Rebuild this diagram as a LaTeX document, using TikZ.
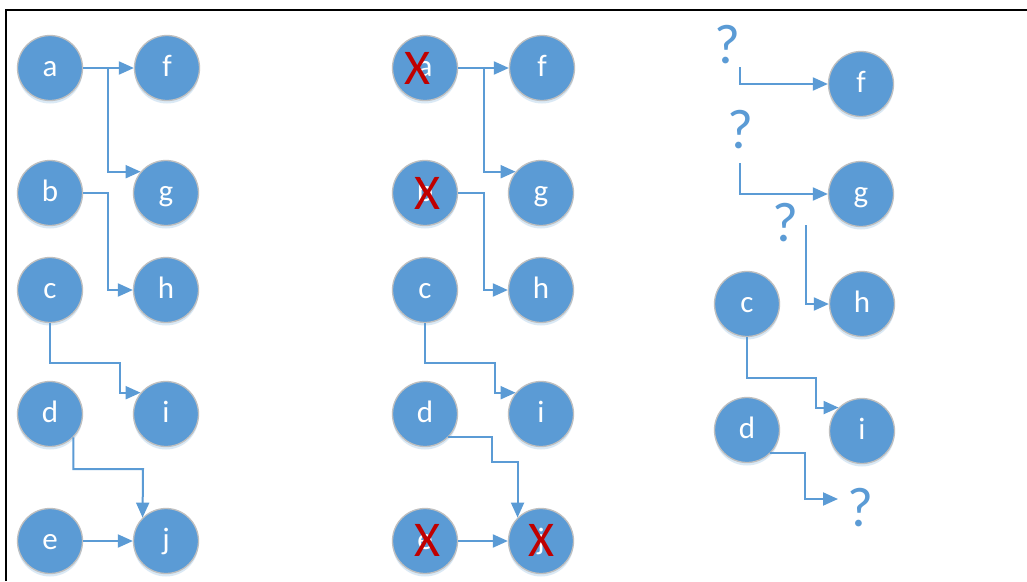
\documentclass[tikz,border=0pt]{standalone}
\usepackage{fontspec}
\setmainfont{Carlito}
\usetikzlibrary{arrows.meta,shadows}
\definecolor{nodeblue}{HTML}{5B9BD5}
\definecolor{rimgray}{HTML}{BFBFBF}
\definecolor{xred}{HTML}{C00000}
\tikzset{
  vert/.style={circle, minimum size=65pt, inner sep=0pt, fill=nodeblue, draw=rimgray,
    line width=1.3pt, text=white, font=\fontsize{31}{31}\selectfont,
    text height=21pt, text depth=4pt,
    drop shadow={shadow xshift=0pt, shadow yshift=-3pt, fill=nodeblue, opacity=0.22}},
  arr/.style={draw=nodeblue, line width=2pt, -{Triangle[length=15pt,width=13pt]}},
  qmark/.style={text=nodeblue, inner sep=0pt, font=\fontsize{56}{56}\selectfont},
  xmark/.style={text=xred, inner sep=0pt, font=\fontsize{50}{50}\selectfont}
}
\begin{document}
\begin{tikzpicture}[x=1pt,y=-1pt]
\useasboundingbox (0,0) rectangle (1027,581);
\fill[white] (0,0) rectangle (1027,581);
\draw[line width=2pt] (6,581) -- (6,10) -- (1027,10);

% panel 1
\node[vert] (a) at (50,68) {a};
\node[vert] (f) at (167,68) {f};
\node[vert] (b) at (50,193) {b};
\node[vert] (g) at (166,193) {g};
\node[vert] (c) at (50,290) {c};
\node[vert] (h) at (166,290) {h};
\node[vert] (d) at (50,414) {d};
\node[vert] (i) at (166,414) {i};
\node[vert] (e) at (50,541) {e};
\node[vert] (j) at (166,541) {j};
\draw[arr] (a.east) -- (f.west);
\draw[arr] (a.east) -- (108,68) |- (g.140);
\draw[arr] (b.east) -- (108,193) |- (h.west);
\draw[arr] (c.south) |- (120,363) |- (i.140);
\draw[arr] (d.-45) |- (143,469) -- (j.135);
\draw[arr] (e.east) -- (j.west);

% panel 2
\node[vert] (a2) at (425,68) {a};
\node[vert] (f2) at (542,68) {f};
\node[vert] (b2) at (425,193) {b};
\node[vert] (g2) at (541,193) {g};
\node[vert] (c2) at (425,290) {c};
\node[vert] (h2) at (541,290) {h};
\node[vert] (d2) at (425,414) {d};
\node[vert] (i2) at (541,414) {i};
\node[vert] (e2) at (425,541) {e};
\node[vert] (j2) at (541,541) {j};
\draw[arr] (a2.east) -- (f2.west);
\draw[arr] (a2.east) -- (484,68) |- (g2.140);
\draw[arr] (b2.east) -- (484,193) |- (h2.west);
\draw[arr] (c2.south) |- (495,363) |- (i2.140);
\draw[arr] (d2.-45) -| (492,462) -| (j2.135);
\draw[arr] (e2.east) -- (j2.west);
\node[xmark] (xa) at (417,68) {X};
\node[xmark] (xb) at (427,193) {X};
\node[xmark] (xe) at (427,540) {X};
\node[xmark] (xj) at (541,540) {X};

% panel 3
\node[qmark] (q1) at (727,45) {?};
\node[qmark] (q2) at (740,130) {?};
\node[qmark] (q3) at (785,223) {?};
\node[qmark] (q4) at (860,508) {?};
\node[vert] (f3) at (861,84) {f};
\node[vert] (g3) at (861,194) {g};
\node[vert] (c3) at (747,304) {c};
\node[vert] (h3) at (862,304) {h};
\node[vert] (d3) at (747,430) {d};
\node[vert] (i3) at (862,431) {i};
\coordinate (s1) at (740,67);
\coordinate (s2) at (740,163);
\coordinate (s3) at (806,225);
\coordinate (t4) at (838,499);
\draw[arr] (s1) |- (f3.west);
\draw[arr] (s2) |- (g3.west);
\draw[arr] (s3) |- (h3.west);
\draw[arr] (c3.south) |- (816,378) |- (i3.135);
\draw[arr] (d3.-45) -| (805,499) -- (t4);
\end{tikzpicture}
\end{document}
